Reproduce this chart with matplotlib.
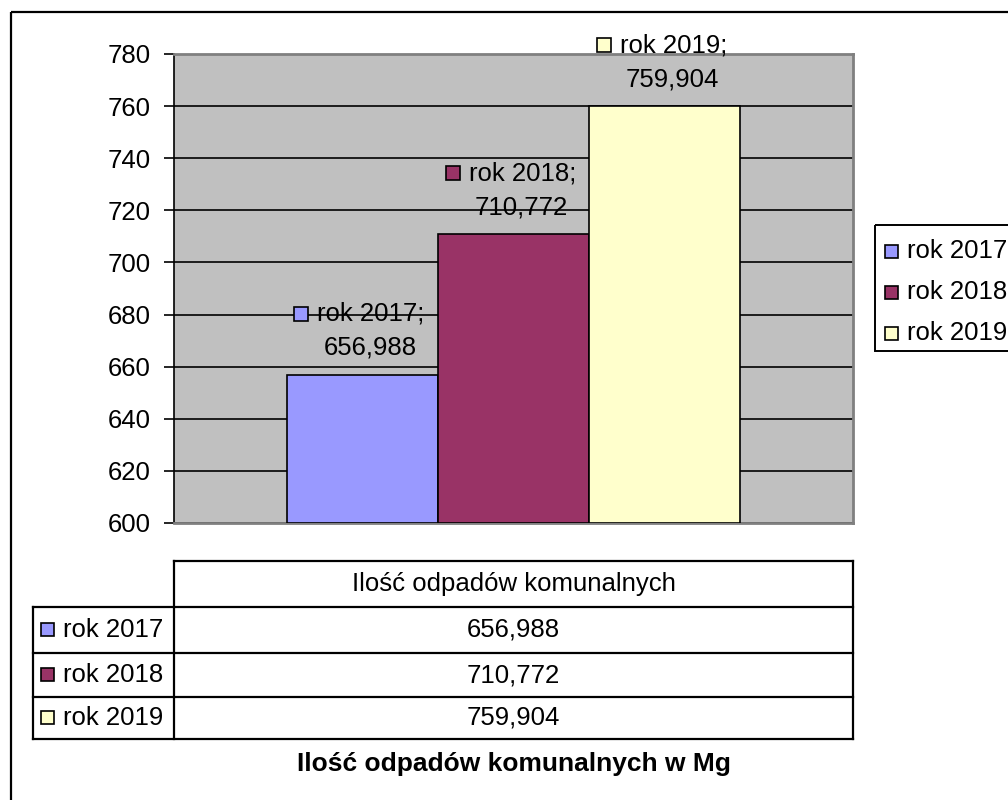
import matplotlib
matplotlib.use("Agg")
import matplotlib.pyplot as plt
from matplotlib.patches import Rectangle
from matplotlib.transforms import offset_copy

plt.rcParams['font.family'] = ['Liberation Sans', 'DejaVu Sans']

# dane
years = ['rok 2017', 'rok 2018', 'rok 2019']
values = [656.988, 710.772, 759.904]
colors = ['#9999FF', '#993366', '#FFFFCC']
category = 'Ilość odpadów komunalnych'
title = 'Ilość odpadów komunalnych w Mg'
yticks = list(range(600, 781, 20))

FS = 18.5
W, H = 1008, 800
fig = plt.figure(figsize=(W / 100, H / 100), dpi=100)

# warstwa w pikselach na ramke, tabele i legende
ov = fig.add_axes([0, 0, 1, 1])
ov.set_xlim(0, W)
ov.set_ylim(H, 0)
ov.axis('off')


def fmt(v):
    return f"{v:.3f}".replace('.', ',')


# ramka wykresu
ov.add_patch(Rectangle((11, 12), 1100, 900, fill=False, ec='black', lw=1.6))

# wykres slupkowy
L, R, T, B = 174, 853, 54, 523
ax = fig.add_axes([L / W, 1 - B / H, (R - L) / W, (B - T) / H])
ax.set_facecolor('#C0C0C0')
ax.set_axisbelow(True)
ax.yaxis.grid(True, color='black', lw=1.2)
ax.set_ylim(600, 780)
ax.set_xlim(0, 1)
ax.set_yticks(yticks)
ax.set_yticklabels([str(t) for t in yticks], fontsize=FS)
ax.tick_params(axis='y', length=7, width=1.2, pad=10, direction='out')
ax.set_xticks([])
for s in ['top', 'right', 'bottom']:
    ax.spines[s].set_color('#808080')
    ax.spines[s].set_linewidth(2)
ax.spines['left'].set_color('black')
ax.spines['left'].set_linewidth(1.2)

bw = 0.2224
xs = [0.5 + (i - 1) * bw for i in range(len(values))]
ax.bar(xs, [v - 600 for v in values], bottom=600, width=bw, color=colors,
       edgecolor='black', linewidth=1.2, zorder=3)

for x, v, c, y in zip(xs, values, colors, years):
    t_sq = offset_copy(ax.transData, fig=fig, x=-61, y=61, units='dots')
    t_l1 = offset_copy(ax.transData, fig=fig, x=-45, y=61, units='dots')
    t_l2 = offset_copy(ax.transData, fig=fig, x=8, y=27, units='dots')
    ax.plot([x], [v], marker='s', ms=10, mfc=c, mec='black', mew=1.2,
            transform=t_sq, zorder=5, clip_on=False)
    ax.text(x, v, y + ';', transform=t_l1, ha='left', va='center',
            fontsize=FS, zorder=5)
    ax.text(x, v, fmt(v), transform=t_l2, ha='center', va='center',
            fontsize=FS, zorder=5)

# legenda
ov.add_patch(Rectangle((875, 225), 200, 126, fill=False, ec='black', lw=1.4))
for i, (y, c) in enumerate(zip(years, colors)):
    yy = 251 + i * 41
    ov.add_patch(Rectangle((885, yy - 6), 13, 13, fc=c, ec='black', lw=1.2))
    ov.text(907, yy, y, fontsize=FS, va='center', ha='left')

# tabela danych
lw = 1.6
rows = [561, 607, 653, 697, 739]
ov.plot([L, R], [rows[0], rows[0]], color='black', lw=lw)
for r in rows[1:]:
    ov.plot([33, R], [r, r], color='black', lw=lw)
ov.plot([L, L], [rows[0], rows[-1]], color='black', lw=lw)
ov.plot([R, R], [rows[0], rows[-1]], color='black', lw=lw)
ov.plot([33, 33], [rows[1], rows[-1]], color='black', lw=lw)

cx = (L + R) / 2
ov.text(cx, (rows[0] + rows[1]) / 2, category, fontsize=FS,
        ha='center', va='center')
for i, (y, v, c) in enumerate(zip(years, values, colors)):
    yy = (rows[i + 1] + rows[i + 2]) / 2
    ov.add_patch(Rectangle((41, yy - 7), 13, 13, fc=c, ec='black', lw=1.2))
    ov.text(63, yy, y, fontsize=FS, va='center', ha='left')
    ov.text(cx, yy, fmt(v), fontsize=FS, va='center', ha='center')

ov.text(cx, 764, title, fontsize=19, fontweight='bold', ha='center',
        va='center')

fig.savefig('out.png', dpi=100)
